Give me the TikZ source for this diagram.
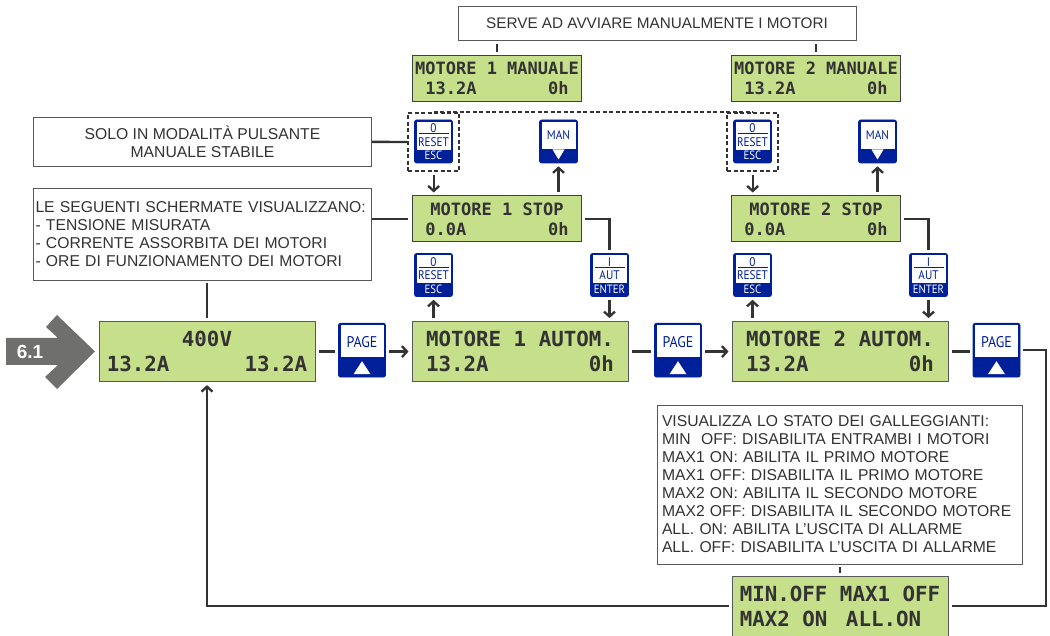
\documentclass[tikz,border=0pt]{standalone}
\usepackage{fontspec}
\setmainfont{Liberation Sans}
\newfontfamily\lcdfont{DejaVu Sans Mono}
\newfontfamily\keyfont{PT Sans}
\usetikzlibrary{positioning, arrows.meta}
\definecolor{lcdgreen}{HTML}{C6DF8A}
\definecolor{keyblue}{HTML}{00209A}
\definecolor{inkgrey}{HTML}{333333}
\definecolor{markgrey}{HTML}{6F6F6E}
\tikzset{
  notebox/.style  = {draw=black!65, line width=0.9pt, fill=white, text=inkgrey, inner sep=0pt, font=\fontsize{15.7}{18}\selectfont},
  lcdbig/.style   = {draw=black!65, line width=1pt, fill=lcdgreen, text=inkgrey, minimum width=216pt, minimum height=60pt, inner sep=0pt, align=center, font=\lcdfont\bfseries\fontsize{20.8}{25}\selectfont},
  lcdsmall/.style = {draw=black!75, line width=1pt, fill=lcdgreen, text=inkgrey, minimum width=169pt, minimum height=46pt, inner sep=0pt, align=center, font=\lcdfont\bfseries\fontsize{17}{20}\selectfont},
  keybody/.style  = {draw=keyblue, fill=keyblue, line width=0.6pt, rounded corners=2pt, inner sep=0pt},
  keywin/.style   = {fill=white, inner sep=0pt, anchor=north},
  keyblack/.style = {text=keyblue, inner sep=0pt, xscale=0.9, font=\keyfont\fontsize{12.5}{13}\selectfont},
  keywhite/.style = {text=white, inner sep=0pt, xscale=0.9, font=\keyfont\fontsize{12}{13}\selectfont},
  line/.style     = {draw=inkgrey, line width=2.3pt, shorten <=3pt, shorten >=3pt},
  arrow/.style    = {line, -{Straight Barb[length=5pt, width=11pt]}},
  dashframe/.style= {draw=inkgrey, line width=2pt, dash pattern=on 4pt off 2.5pt, minimum width=51pt, minimum height=58pt, inner sep=0pt},
  dashline/.style = {draw=inkgrey, line width=2pt, dash pattern=on 4pt off 2.5pt}
}
\newcommand{\stackkey}[5]{
  \node[keybody, minimum width=38pt, minimum height=43pt] (#1) at (#2) {};
  \node[keywin, minimum width=34pt, minimum height=28pt] (#1win) at ([yshift=-2pt]#1.north) {};
  \node[keyblack] (#1top) at ([yshift=-8.5pt]#1.north) {#3};
  \node[keyblack] (#1mid) at ([yshift=-22pt]#1.north) {#4};
  \draw[keyblue, line width=0.8pt] ([xshift=-15pt,yshift=-14pt]#1.north) -- ([xshift=15pt,yshift=-14pt]#1.north);
  \node[keywhite] (#1low) at ([yshift=-36pt]#1.north) {#5};
}
\newcommand{\mankey}[2]{
  \node[keybody, minimum width=38pt, minimum height=43pt] (#1) at (#2) {};
  \node[keywin, minimum width=34pt, minimum height=27pt] (#1win) at ([yshift=-2pt]#1.north) {};
  \node[keyblack] (#1txt) at ([yshift=-15pt]#1.north) {MAN};
  \fill[white] ([shift={(-6,8)}]#1.center) -- ([shift={(6,8)}]#1.center) -- ([shift={(0,18)}]#1.center) -- cycle;
}
\newcommand{\pagekey}[2]{
  \node[keybody, minimum width=47pt, minimum height=54pt] (#1) at (#2) {};
  \node[keywin, minimum width=43pt, minimum height=32pt] (#1win) at ([yshift=-2pt]#1.north) {};
  \node[keyblack, font=\keyfont\fontsize{15.5}{15}\selectfont] (#1txt) at ([yshift=-19pt]#1.north) {PAGE};
  \fill[white] ([shift={(-8.5,24)}]#1.center) -- ([shift={(8.5,24)}]#1.center) -- ([shift={(0,11)}]#1.center) -- cycle;
}
\begin{document}
\begin{tikzpicture}[x=1pt, y=-1pt]
  \useasboundingbox (0,0) rectangle (1050,636);
  \fill[markgrey] (6,338) -- (58,338) -- (46,327) -- (57,315) -- (95,351.5) -- (57,389) -- (45,377) -- (58,365) -- (6,365) -- cycle;
  \node[text=white, inner sep=0pt, font=\bfseries\fontsize{19}{19}\selectfont] (mark) at (30,352) {6.1};

  \node[lcdbig] (main)   at (207,351.6) {400V\\13.2A~~~~~~13.2A};
  \node[lcdbig, right=96pt of main]   (motor1) {MOTORE 1 AUTOM.\\13.2A~~~~~~~~0h};
  \node[lcdbig, right=103pt of motor1] (motor2) {MOTORE 2 AUTOM.\\13.2A~~~~~~~~0h};
  \node[lcdbig, align=left] (float) at (840,606) {MIN.OFF MAX1 OFF\\MAX2 ON~\hspace{6pt}ALL.ON};

  \node[lcdsmall] (stop1) at (497,219) {MOTORE 1 STOP\\0.0A~~~~~~~~0h};
  \node[lcdsmall] (stop2) at (816,219) {MOTORE 2 STOP\\0.0A~~~~~~~~0h};
  \node[lcdsmall] (manual1) at (497,78.5) {MOTORE 1 MANUALE\\13.2A~~~~~~~0h};
  \node[lcdsmall] (manual2) at (816,78.5) {MOTORE 2 MANUALE\\13.2A~~~~~~~0h};

  \pagekey{page1}{362,350.2}
  \pagekey{page2}{678,350.2}
  \pagekey{page3}{996.5,350.2}

  \stackkey{esc1}{433.5,141.5}{0}{RESET}{ESC}
  \stackkey{esc2}{752.5,141.5}{0}{RESET}{ESC}
  \stackkey{esc3}{433.5,275}{0}{RESET}{ESC}
  \stackkey{esc4}{752.5,275}{0}{RESET}{ESC}
  \stackkey{aut1}{609.5,275}{I}{AUT}{ENTER}
  \stackkey{aut2}{928.5,275}{I}{AUT}{ENTER}
  \mankey{man1}{558.5,141.5}
  \mankey{man2}{877.5,141.5}

  \node[dashframe] (frame1) at (433.7,142) {};
  \node[dashframe] (frame2) at (752.7,142) {};

  \node[notebox, minimum width=398pt, minimum height=34pt, font=\fontsize{15.3}{18}\selectfont] (servenote) at (657,23.5) {SERVE AD AVVIARE MANUALMENTE I MOTORI};
  \node[notebox, minimum width=338pt, minimum height=49pt, align=center] (solonote) at (202.5,141.5) {SOLO IN MODALITÀ PULSANTE\\MANUALE STABILE};
  \node[notebox, minimum height=92pt, inner xsep=2pt, text width=334pt, align=left] (lenote) at (202.5,234) {LE SEGUENTI SCHERMATE VISUALIZZANO:\\- TENSIONE MISURATA\\- CORRENTE ASSORBITA DEI MOTORI\\- ORE DI FUNZIONAMENTO DEI MOTORI};
  \node[notebox, minimum height=159pt, inner xsep=5pt, text width=355pt, align=left] (floatnote) at (839.5,484.5) {VISUALIZZA LO STATO DEI GALLEGGIANTI:\\MIN~~OFF: DISABILITA ENTRAMBI I MOTORI\\MAX1 ON: ABILITA IL PRIMO MOTORE\\MAX1 OFF: DISABILITA IL PRIMO MOTORE\\MAX2 ON: ABILITA IL SECONDO MOTORE\\MAX2 OFF: DISABILITA IL SECONDO MOTORE\\ALL. ON: ABILITA L’USCITA DI ALLARME\\ALL. OFF: DISABILITA L’USCITA DI ALLARME};

  \coordinate (corner) at (1046,606);

  \draw[line] (servenote.south -| manual1.north) -- (manual1.north);
  \draw[line] (servenote.south -| manual2.north) -- (manual2.north);
  \draw[line, shorten >=0pt, shorten <=0pt] (solonote) -- (frame1);
  \draw[dashline] (frame1.north) -- (frame2.north);
  \draw[line, shorten >=0pt, shorten <=0pt] (stop1.west -| lenote.east) -- ++(36,0);
  \draw[line] (main.north) -- (main.north |- lenote.south);
  \draw[arrow] (frame1.south) -- (frame1.south |- stop1.north);
  \draw[arrow] (frame2.south) -- (frame2.south |- stop2.north);
  \draw[arrow] (man1.south |- stop1.north) -- (man1.south);
  \draw[arrow] (man2.south |- stop2.north) -- (man2.south);
  \draw[line] (stop1.east) -| (aut1.north);
  \draw[line] (stop2.east) -| (aut2.north);
  \draw[arrow] (esc3.south |- motor1.north) -- (esc3.south);
  \draw[arrow] (esc4.south |- motor2.north) -- (esc4.south);
  \draw[arrow] (aut1.south) -- (aut1.south |- motor1.north);
  \draw[arrow] (aut2.south) -- (aut2.south |- motor2.north);
  \draw[line] (main.east) -- (main.east -| page1.west);
  \draw[arrow] (page1.east |- main.east) -- (motor1.west);
  \draw[line] (motor1.east) -- (motor1.east -| page2.west);
  \draw[arrow] (page2.east |- motor1.east) -- (motor2.west);
  \draw[line] (motor2.east) -- (motor2.east -| page3.west);
  \draw[line] (page3.east) -| (corner) -- (float.east);
  \draw[arrow] (float.west) -| (main.south);
  \draw[line] (float.north) -- (float.north |- floatnote.south);
\end{tikzpicture}
\end{document}
